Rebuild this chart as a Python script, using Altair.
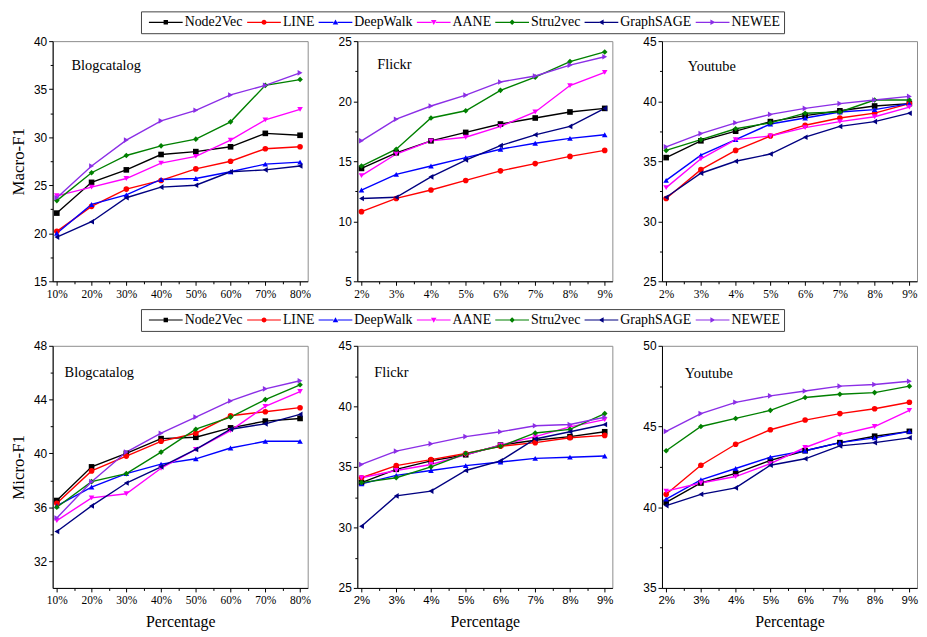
import altair as alt
import pandas as pd

methods = ["Node2Vec", "LINE", "DeepWalk", "AANE", "Stru2vec", "GraphSAGE", "NEWEE"]
colors = ["#000000", "#FF0000", "#0000FF", "#FF00FF", "#008000", "#000080", "#8B2EE6"]
shapes = ["square", "circle", "triangle-up", "triangle-down", "diamond", "triangle-left", "triangle-right"]

blog_pct = ["10%", "20%", "30%", "40%", "50%", "60%", "70%", "80%"]
small_pct = ["2%", "3%", "4%", "5%", "6%", "7%", "8%", "9%"]

# ---- Macro-F1 ----
macro_blog = {
    "Node2Vec": [22.1, 25.3, 26.6, 28.2, 28.5, 29.0, 30.4, 30.2],
    "LINE": [20.2, 22.8, 24.6, 25.5, 26.7, 27.5, 28.8, 29.0],
    "DeepWalk": [20.0, 23.0, 24.0, 25.6, 25.7, 26.4, 27.2, 27.4],
    "AANE": [23.9, 24.8, 25.7, 27.3, 28.0, 29.7, 31.8, 32.9],
    "Stru2vec": [23.4, 26.3, 28.1, 29.1, 29.8, 31.6, 35.4, 36.0],
    "GraphSAGE": [19.6, 21.2, 23.7, 24.8, 25.0, 26.4, 26.6, 27.0],
    "NEWEE": [23.7, 27.0, 29.7, 31.7, 32.8, 34.4, 35.4, 36.7],
}
macro_flickr = {
    "Node2Vec": [14.4, 15.7, 16.7, 17.4, 18.1, 18.6, 19.1, 19.4],
    "LINE": [10.8, 11.9, 12.6, 13.4, 14.2, 14.8, 15.4, 15.9],
    "DeepWalk": [12.6, 13.9, 14.6, 15.3, 16.0, 16.5, 16.9, 17.2],
    "AANE": [13.8, 15.6, 16.7, 17.0, 17.9, 19.1, 21.3, 22.4],
    "Stru2vec": [14.6, 16.0, 18.6, 19.2, 20.9, 22.0, 23.3, 24.1],
    "GraphSAGE": [11.9, 12.0, 13.7, 15.1, 16.3, 17.2, 17.9, 19.4],
    "NEWEE": [16.7, 18.5, 19.6, 20.5, 21.6, 22.1, 23.0, 23.7],
}
macro_youtube = {
    "Node2Vec": [35.3, 36.7, 37.5, 38.3, 38.8, 39.2, 39.6, 39.8],
    "LINE": [31.9, 34.3, 35.9, 37.1, 38.0, 38.6, 39.0, 39.8],
    "DeepWalk": [33.4, 35.5, 36.8, 38.1, 38.6, 39.1, 39.3, 39.8],
    "AANE": [32.8, 35.2, 36.8, 37.1, 37.8, 38.3, 38.7, 39.5],
    "Stru2vec": [35.9, 36.8, 37.7, 38.2, 39.0, 39.1, 40.1, 40.1],
    "GraphSAGE": [32.0, 34.0, 35.0, 35.6, 37.0, 37.9, 38.3, 39.0],
    "NEWEE": [36.2, 37.3, 38.2, 38.9, 39.4, 39.8, 40.1, 40.4],
}
# ---- Micro-F1 ----
micro_blog = {
    "Node2Vec": [36.5, 39.0, 40.0, 41.1, 41.2, 41.9, 42.4, 42.6],
    "LINE": [36.3, 38.7, 39.8, 40.9, 41.5, 42.8, 43.1, 43.4],
    "DeepWalk": [36.1, 37.5, 38.5, 39.2, 39.6, 40.4, 40.9, 40.9],
    "AANE": [35.0, 36.7, 37.0, 38.9, 40.3, 41.7, 43.5, 44.6],
    "Stru2vec": [36.0, 37.9, 38.5, 40.1, 41.8, 42.7, 44.0, 45.1],
    "GraphSAGE": [34.2, 36.1, 37.8, 39.0, 40.3, 41.8, 42.2, 42.9],
    "NEWEE": [35.2, 37.9, 40.1, 41.5, 42.7, 43.9, 44.8, 45.4],
}
micro_flickr = {
    "Node2Vec": [33.7, 34.8, 35.5, 36.0, 36.8, 37.2, 37.5, 37.9],
    "LINE": [34.1, 35.1, 35.6, 36.1, 36.7, 37.0, 37.4, 37.6],
    "DeepWalk": [33.6, 34.3, 34.7, 35.1, 35.4, 35.7, 35.8, 35.9],
    "AANE": [34.1, 34.7, 35.2, 36.0, 36.8, 37.5, 38.3, 38.9],
    "Stru2vec": [33.7, 34.1, 35.0, 36.1, 36.7, 37.8, 38.1, 39.4],
    "GraphSAGE": [30.1, 32.6, 33.0, 34.7, 35.5, 37.3, 37.9, 38.5],
    "NEWEE": [35.2, 36.3, 36.9, 37.5, 37.9, 38.4, 38.5, 39.1],
}
micro_youtube = {
    "Node2Vec": [40.3, 41.5, 42.1, 42.9, 43.5, 44.0, 44.4, 44.7],
    "LINE": [40.8, 42.6, 43.9, 44.8, 45.4, 45.8, 46.1, 46.5],
    "DeepWalk": [40.5, 41.7, 42.4, 43.1, 43.5, 44.0, 44.3, 44.7],
    "AANE": [41.0, 41.5, 41.9, 42.7, 43.7, 44.5, 45.0, 46.0],
    "Stru2vec": [43.5, 45.0, 45.5, 46.0, 46.8, 47.0, 47.1, 47.5],
    "GraphSAGE": [40.1, 40.8, 41.2, 42.6, 43.0, 43.8, 44.0, 44.3],
    "NEWEE": [44.7, 45.8, 46.5, 46.9, 47.2, 47.5, 47.6, 47.8],
}

SERIF = "Liberation Serif"
SANS = "Liberation Sans"
W = 257

# legend symbols: line - marker - line (unit = sqrt(size)/2 px)
_line = "M-8.5,-0.3H-1V0.3H-8.5Z M1,-0.3H8.5V0.3H1Z "
legend_paths = [
    _line + "M-1.1,-1.1H1.1V1.1H-1.1Z",
    _line + "M-1.25,0A1.25,1.25,0,1,1,1.25,0A1.25,1.25,0,1,1,-1.25,0Z",
    _line + "M0,-1.4L1.4,1.1L-1.4,1.1Z",
    _line + "M0,1.4L-1.4,-1.1L1.4,-1.1Z",
    _line + "M0,-1.4L1.4,0L0,1.4L-1.4,0Z",
    _line + "M-1.4,0L1.1,-1.4L1.1,1.4Z",
    _line + "M1.4,0L-1.1,1.4L-1.1,-1.4Z",
]


def js_arr(vals):
    return "[" + ",".join(str(v) for v in vals) + "]"


def panel(name, pcts, series, ydom, majors, minors, dx, dy, height,
          ytitle=None, xtitle=None, xfont=SERIF):
    rows = []
    for m in methods:
        for i, (p, v) in enumerate(zip(pcts, series[m])):
            rows.append({"method": m, "pct": p, "idx": i, "value": v})
    df = pd.DataFrame(rows)
    n = len(pcts)
    lab_arr = "[" + ",".join("'" + p + "'" for p in pcts) + "]"
    xvals = [i * 0.5 for i in range(2 * n - 1)]
    xaxis = dict(
        values=xvals,
        labelExpr="datum.value % 1 === 0 ? " + lab_arr + "[datum.value] : ''",
        tickSize={"condition": {"test": "datum.value % 1 !== 0", "value": 2.5}, "value": 4},
        labelOverlap=False, labelFlush=False, grid=False,
        labelFont=xfont, labelFontSize=11.5, labelPadding=3,
    )
    if xtitle:
        xaxis.update(title=xtitle, titleFont=SERIF, titleFontSize=16,
                     titleFontWeight="normal", titlePadding=7)
    else:
        xaxis.update(title=None)
    yvals = sorted(majors + minors)
    yaxis = dict(
        values=yvals,
        labelExpr="indexof(" + js_arr(majors) + ", datum.value) >= 0 ? datum.label : ''",
        tickSize={"condition": {"test": "indexof(" + js_arr(majors) + ", datum.value) < 0",
                                "value": 2.5}, "value": 4},
        labelOverlap=False, labelFlush=False, grid=False,
        labelFont=SANS, labelFontSize=12, labelPadding=2,
    )
    if ytitle:
        yaxis.update(title=ytitle, titleFont=SERIF, titleFontSize=17,
                     titleFontWeight="normal", titlePadding=6)
    else:
        yaxis.update(title=None)

    base = alt.Chart(df).encode(
        x=alt.X("idx:Q", scale=alt.Scale(domain=[-0.12, n - 1 + 0.22], nice=False, zero=False),
                axis=alt.Axis(**xaxis)),
        y=alt.Y("value:Q", scale=alt.Scale(domain=ydom, nice=False, zero=False),
                axis=alt.Axis(**yaxis)),
        color=alt.Color("method:N", scale=alt.Scale(domain=methods, range=colors), legend=None),
    )
    lines = base.mark_line(strokeWidth=1.4).encode(detail="method:N")
    pts = base.mark_point(filled=True, size=32, opacity=1).encode(
        shape=alt.Shape("method:N", scale=alt.Scale(domain=methods, range=shapes), legend=None)
    )
    lab = alt.Chart(pd.DataFrame({"t": [name]})).mark_text(
        align="left", baseline="middle", font=SERIF, fontSize=14.5, color="black"
    ).encode(text="t:N", x=alt.value(dx), y=alt.value(dy))
    return alt.layer(lines, pts, lab).properties(width=W, height=height)


def legend_chart(h, ly):
    leg = dict(
        title=None, orient="none", legendX=89, legendY=ly, direction="horizontal",
        columns=7, symbolSize=16, symbolOffset=14, labelOffset=12,
        labelFont=SERIF, labelFontSize=14, labelColor="black", labelLimit=200,
        columnPadding=0, padding=4, strokeColor="#444", fillColor="white",
        symbolOpacity=1, symbolStrokeWidth=0,
    )
    df = pd.DataFrame({"method": methods})
    pts = alt.Chart(df).mark_point(filled=True, opacity=0).encode(
        color=alt.Color("method:N", scale=alt.Scale(domain=methods, range=colors),
                        legend=alt.Legend(**leg)),
        shape=alt.Shape("method:N", scale=alt.Scale(domain=methods, range=legend_paths),
                        legend=alt.Legend(**leg)),
    )
    frame = alt.Chart(df).mark_rect(opacity=0).encode(
        x=alt.value(0), x2=alt.value(10), y=alt.value(0), y2=alt.value(h)
    )
    return alt.layer(frame, pts).properties(width=600, height=h,
                                           view=alt.ViewBackground(strokeOpacity=0))


f5 = lambda a, b: list(range(a, b + 1, 5))
half = lambda a, b: [x + 2.5 for x in range(a, b, 5)]

H1, H2 = 242, 244

row1 = alt.hconcat(
    panel("Blogcatalog", blog_pct, macro_blog, [15, 40], f5(15, 40), half(15, 40), 19, 25, H1,
          ytitle="Macro-F1"),
    panel("Flickr", small_pct, macro_flickr, [5, 25], f5(5, 25), half(5, 25), 20, 24, H1),
    panel("Youtube", small_pct, macro_youtube, [25, 45], f5(25, 45), half(25, 45), 26, 26, H1),
    spacing=50, bounds="flush",
)
row2 = alt.hconcat(
    panel("Blogcatalog", blog_pct, micro_blog, [30, 48], [32, 36, 40, 44, 48], [34, 38, 42, 46],
          12, 27, H2, ytitle="Micro-F1", xtitle="Percentage"),
    panel("Flickr", small_pct, micro_flickr, [25, 45], f5(25, 45), half(25, 45), 17, 27, H2,
          xtitle="Percentage", xfont=SANS),
    panel("Youtube", small_pct, micro_youtube, [35, 50], f5(35, 50), half(35, 50), 23, 28, H2,
          xtitle="Percentage", xfont=SANS),
    spacing=50, bounds="flush",
)

chart = alt.vconcat(
    legend_chart(22, 0), row1, legend_chart(39, 9), row2, spacing=0
).resolve_scale(
    color="independent", shape="independent"
).resolve_legend(
    color="independent", shape="independent"
).properties(
    padding={"left": 1, "top": 0, "right": 0, "bottom": 0}
).configure_axis(
    labelColor="black", tickColor="black", domainColor="black", titleColor="black",
    grid=False,
).configure_view(stroke="#8c8c8c")

chart.save("out.html", embed_options={"renderer": "svg", "actions": False})
